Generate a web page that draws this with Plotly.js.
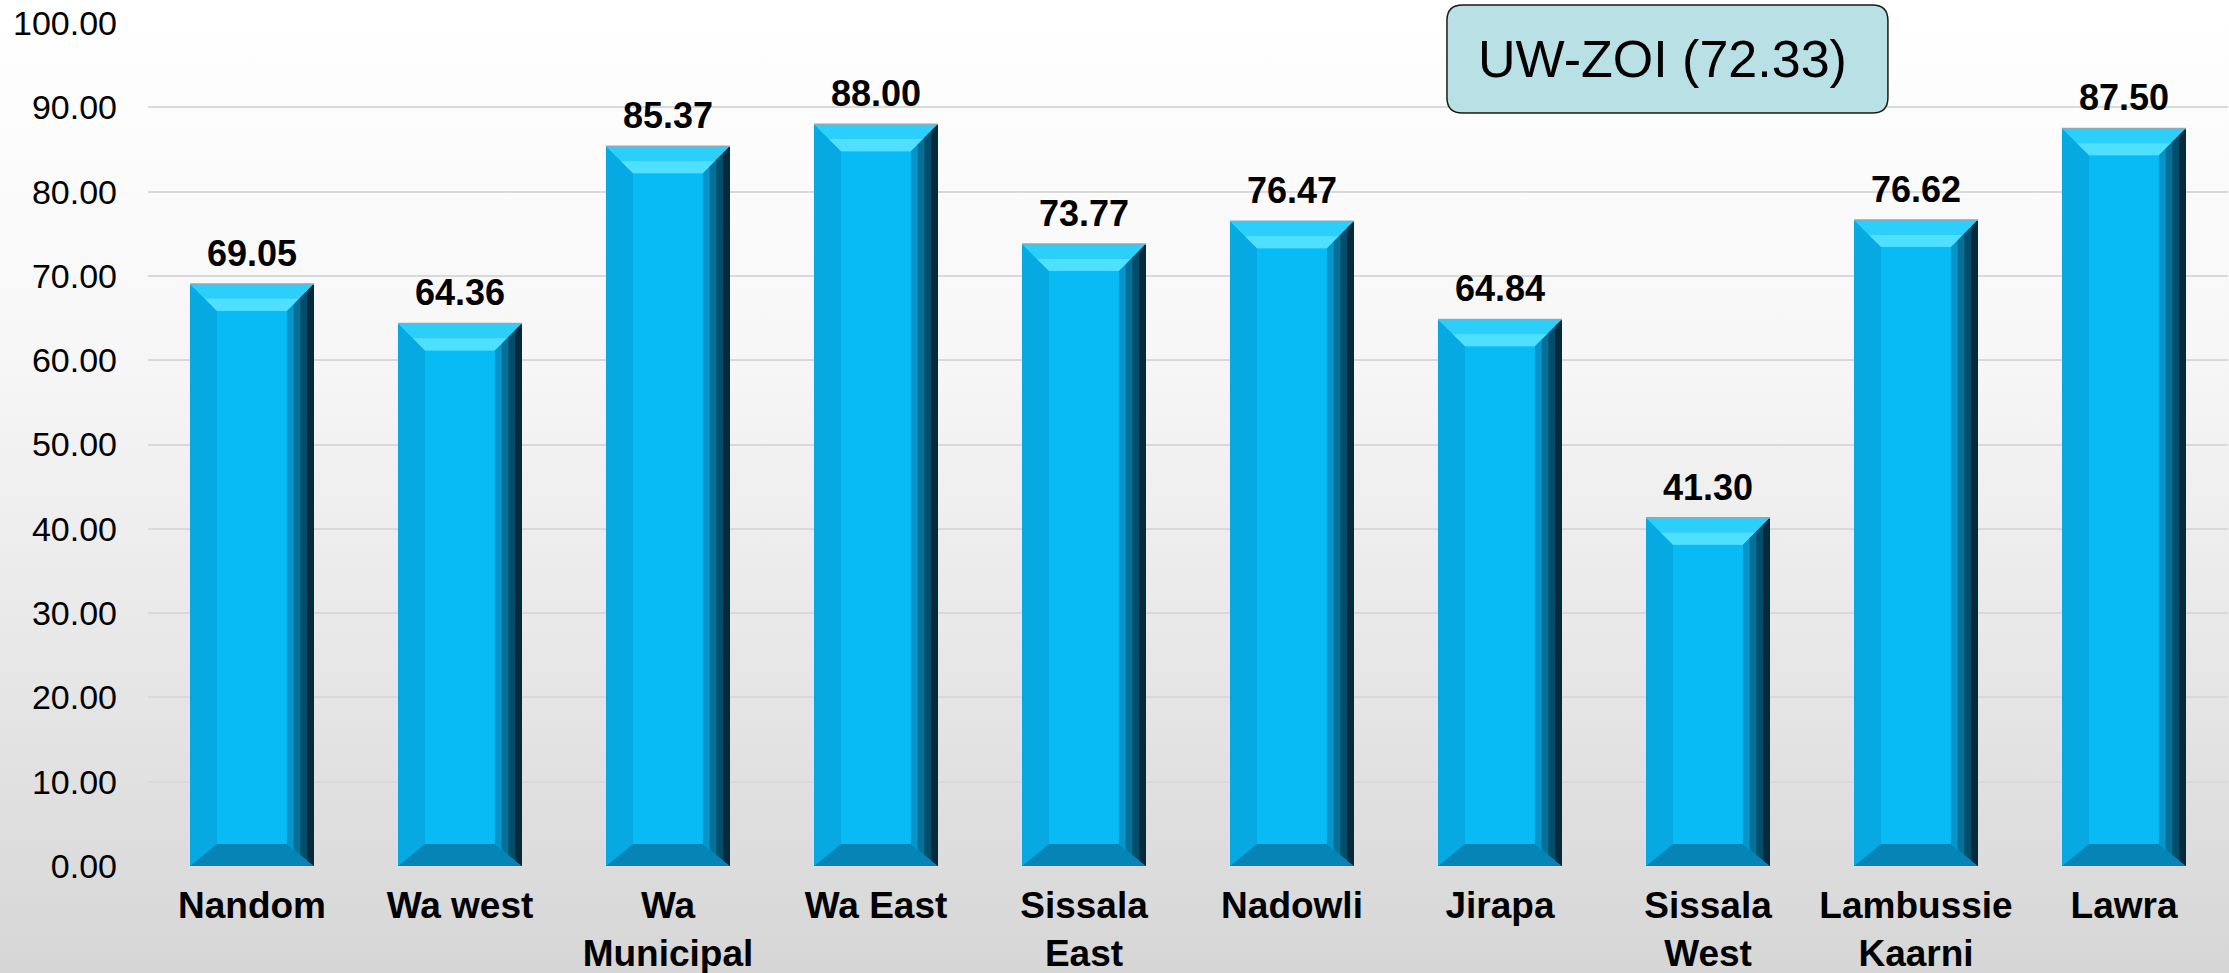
<!DOCTYPE html>
<html>
<head>
<meta charset="utf-8">
<script src="https://cdn.plot.ly/plotly-3.0.1.min.js"></script>
<style>
  html, body { margin: 0; padding: 0; }
  #chart { width: 2229px; height: 973px;
    background: linear-gradient(to bottom, #ffffff 0%, #f7f7f7 35%, #e6e6e6 70%, #d6d6d6 100%); }
</style>
</head>
<body>
<div id="chart"></div>
<script>
// ---- data ----
const categories = ['Nandom', 'Wa west', 'Wa<br>Municipal', 'Wa East', 'Sissala<br>East', 'Nadowli', 'Jirapa', 'Sissala<br>West', 'Lambussie<br>Kaarni', 'Lawra'];
const values = [69.05, 64.36, 85.37, 88.00, 73.77, 76.47, 64.84, 41.30, 76.62, 87.50];
const yTickValues = [0, 10, 20, 30, 40, 50, 60, 70, 80, 90, 100];
const summaryLabel = 'UW-ZOI (72.33)';

// ---- styling ----
const barWidth = 0.596;
const half = barWidth / 2;
const bx = 0.13;   // bevel horizontal size (category units)
const ht = 3.2;    // top bevel height (value units)
const hb = 2.6;    // bottom bevel height

const shapes = [];
values.forEach((v, i) => {
  const L = i - half, R = i + half;
  const P = pts => 'M' + pts.map(p => p[0] + ',' + p[1]).join('L') + 'Z';
  // left face
  shapes.push({type: 'path', xref: 'x', yref: 'y', layer: 'above', line: {width: 0},
    fillcolor: '#06a9e2', path: P([[L, v], [L + bx, v - ht], [L + bx, hb], [L, 0]])});
  // top bevel
  shapes.push({type: 'path', xref: 'x', yref: 'y', layer: 'above', line: {width: 0},
    fillcolor: '#2ccff9', path: P([[L, v], [R, v], [R - bx, v - ht], [L + bx, v - ht]])});
  shapes.push({type: 'path', xref: 'x', yref: 'y', layer: 'above', line: {width: 0},
    fillcolor: '#4fe0ff', path: P([[L + bx * 0.55, v - ht * 0.55], [R - bx * 0.55, v - ht * 0.55], [R - bx, v - ht], [L + bx, v - ht]])});
  // bottom bevel
  shapes.push({type: 'path', xref: 'x', yref: 'y', layer: 'above', line: {width: 0},
    fillcolor: '#0784b6', path: P([[L, 0], [R, 0], [R - bx, hb], [L + bx, hb]])});
  // right face gradient (nested strips)
  [[1.0, '#0795c9'], [0.75, '#056f98'], [0.5, '#034d6a'], [0.25, '#012a3a']].forEach(([f, c]) => {
    shapes.push({type: 'path', xref: 'x', yref: 'y', layer: 'above', line: {width: 0},
      fillcolor: c, path: P([[R, v], [R - bx * f, v - ht * f], [R - bx * f, hb * f], [R, 0]])});
  });
  // top edge line
  shapes.push({type: 'line', xref: 'x', yref: 'y', layer: 'above', x0: L, x1: R, y0: v, y1: v,
    line: {color: '#8fa9b5', width: 1.5}});
});

// rounded summary box (paper coords)
const bx0 = 0.6245, bx1 = 0.8365, by0 = 0.8932, by1 = 1.0214, rx = 0.0075, ry = 0.0185;
shapes.push({type: 'path', xref: 'paper', yref: 'paper', layer: 'above',
  fillcolor: '#b9e0e5', line: {color: '#1a1a1a', width: 1.5},
  path: `M${bx0 + rx},${by1} L${bx1 - rx},${by1} Q${bx1},${by1} ${bx1},${by1 - ry} L${bx1},${by0 + ry} Q${bx1},${by0} ${bx1 - rx},${by0} L${bx0 + rx},${by0} Q${bx0},${by0} ${bx0},${by0 + ry} L${bx0},${by1 - ry} Q${bx0},${by1} ${bx0 + rx},${by1} Z`});

const annotations = values.map((v, i) => ({
  x: categories[i], y: v, xref: 'x', yref: 'y', text: v.toFixed(2),
  showarrow: false, yanchor: 'bottom', yshift: 8,
  font: {family: 'Liberation Sans, Arial, sans-serif', size: 36, color: '#000', weight: 'bold'}
}));
annotations.push({
  x: 0.7279, y: 0.957, xref: 'paper', yref: 'paper', text: summaryLabel, showarrow: false,
  xanchor: 'center', yanchor: 'middle',
  font: {family: 'Liberation Sans, Arial, sans-serif', size: 52, color: '#000'}
});

const trace = {
  type: 'bar', x: categories, y: values, width: barWidth,
  marker: {color: '#08bbf5', line: {width: 0}},
  hoverinfo: 'x+y'
};

const layout = {
  width: 2229, height: 973,
  paper_bgcolor: 'rgba(0,0,0,0)', plot_bgcolor: 'rgba(0,0,0,0)',
  margin: {l: 148, r: 1, t: 23, b: 107},
  showlegend: false,
  xaxis: {
    type: 'category', range: [-0.5, 9.5], showgrid: false, zeroline: false, showline: false,
    ticks: '', ticklabelstandoff: 14,
    tickfont: {family: 'Liberation Sans, Arial, sans-serif', size: 37, color: '#000', weight: 'bold'}
  },
  yaxis: {
    range: [0, 100], tickvals: yTickValues, tickformat: '.2f',
    showgrid: true, gridcolor: '#d9d9d9', gridwidth: 2, zeroline: false, showline: false,
    ticks: '', ticklabelstandoff: 30,
    tickfont: {family: 'Liberation Sans, Arial, sans-serif', size: 34, color: '#000'}
  },
  shapes: shapes,
  annotations: annotations
};

Plotly.newPlot('chart', [trace], layout, {displayModeBar: false, staticPlot: true});
</script>
</body>
</html>
